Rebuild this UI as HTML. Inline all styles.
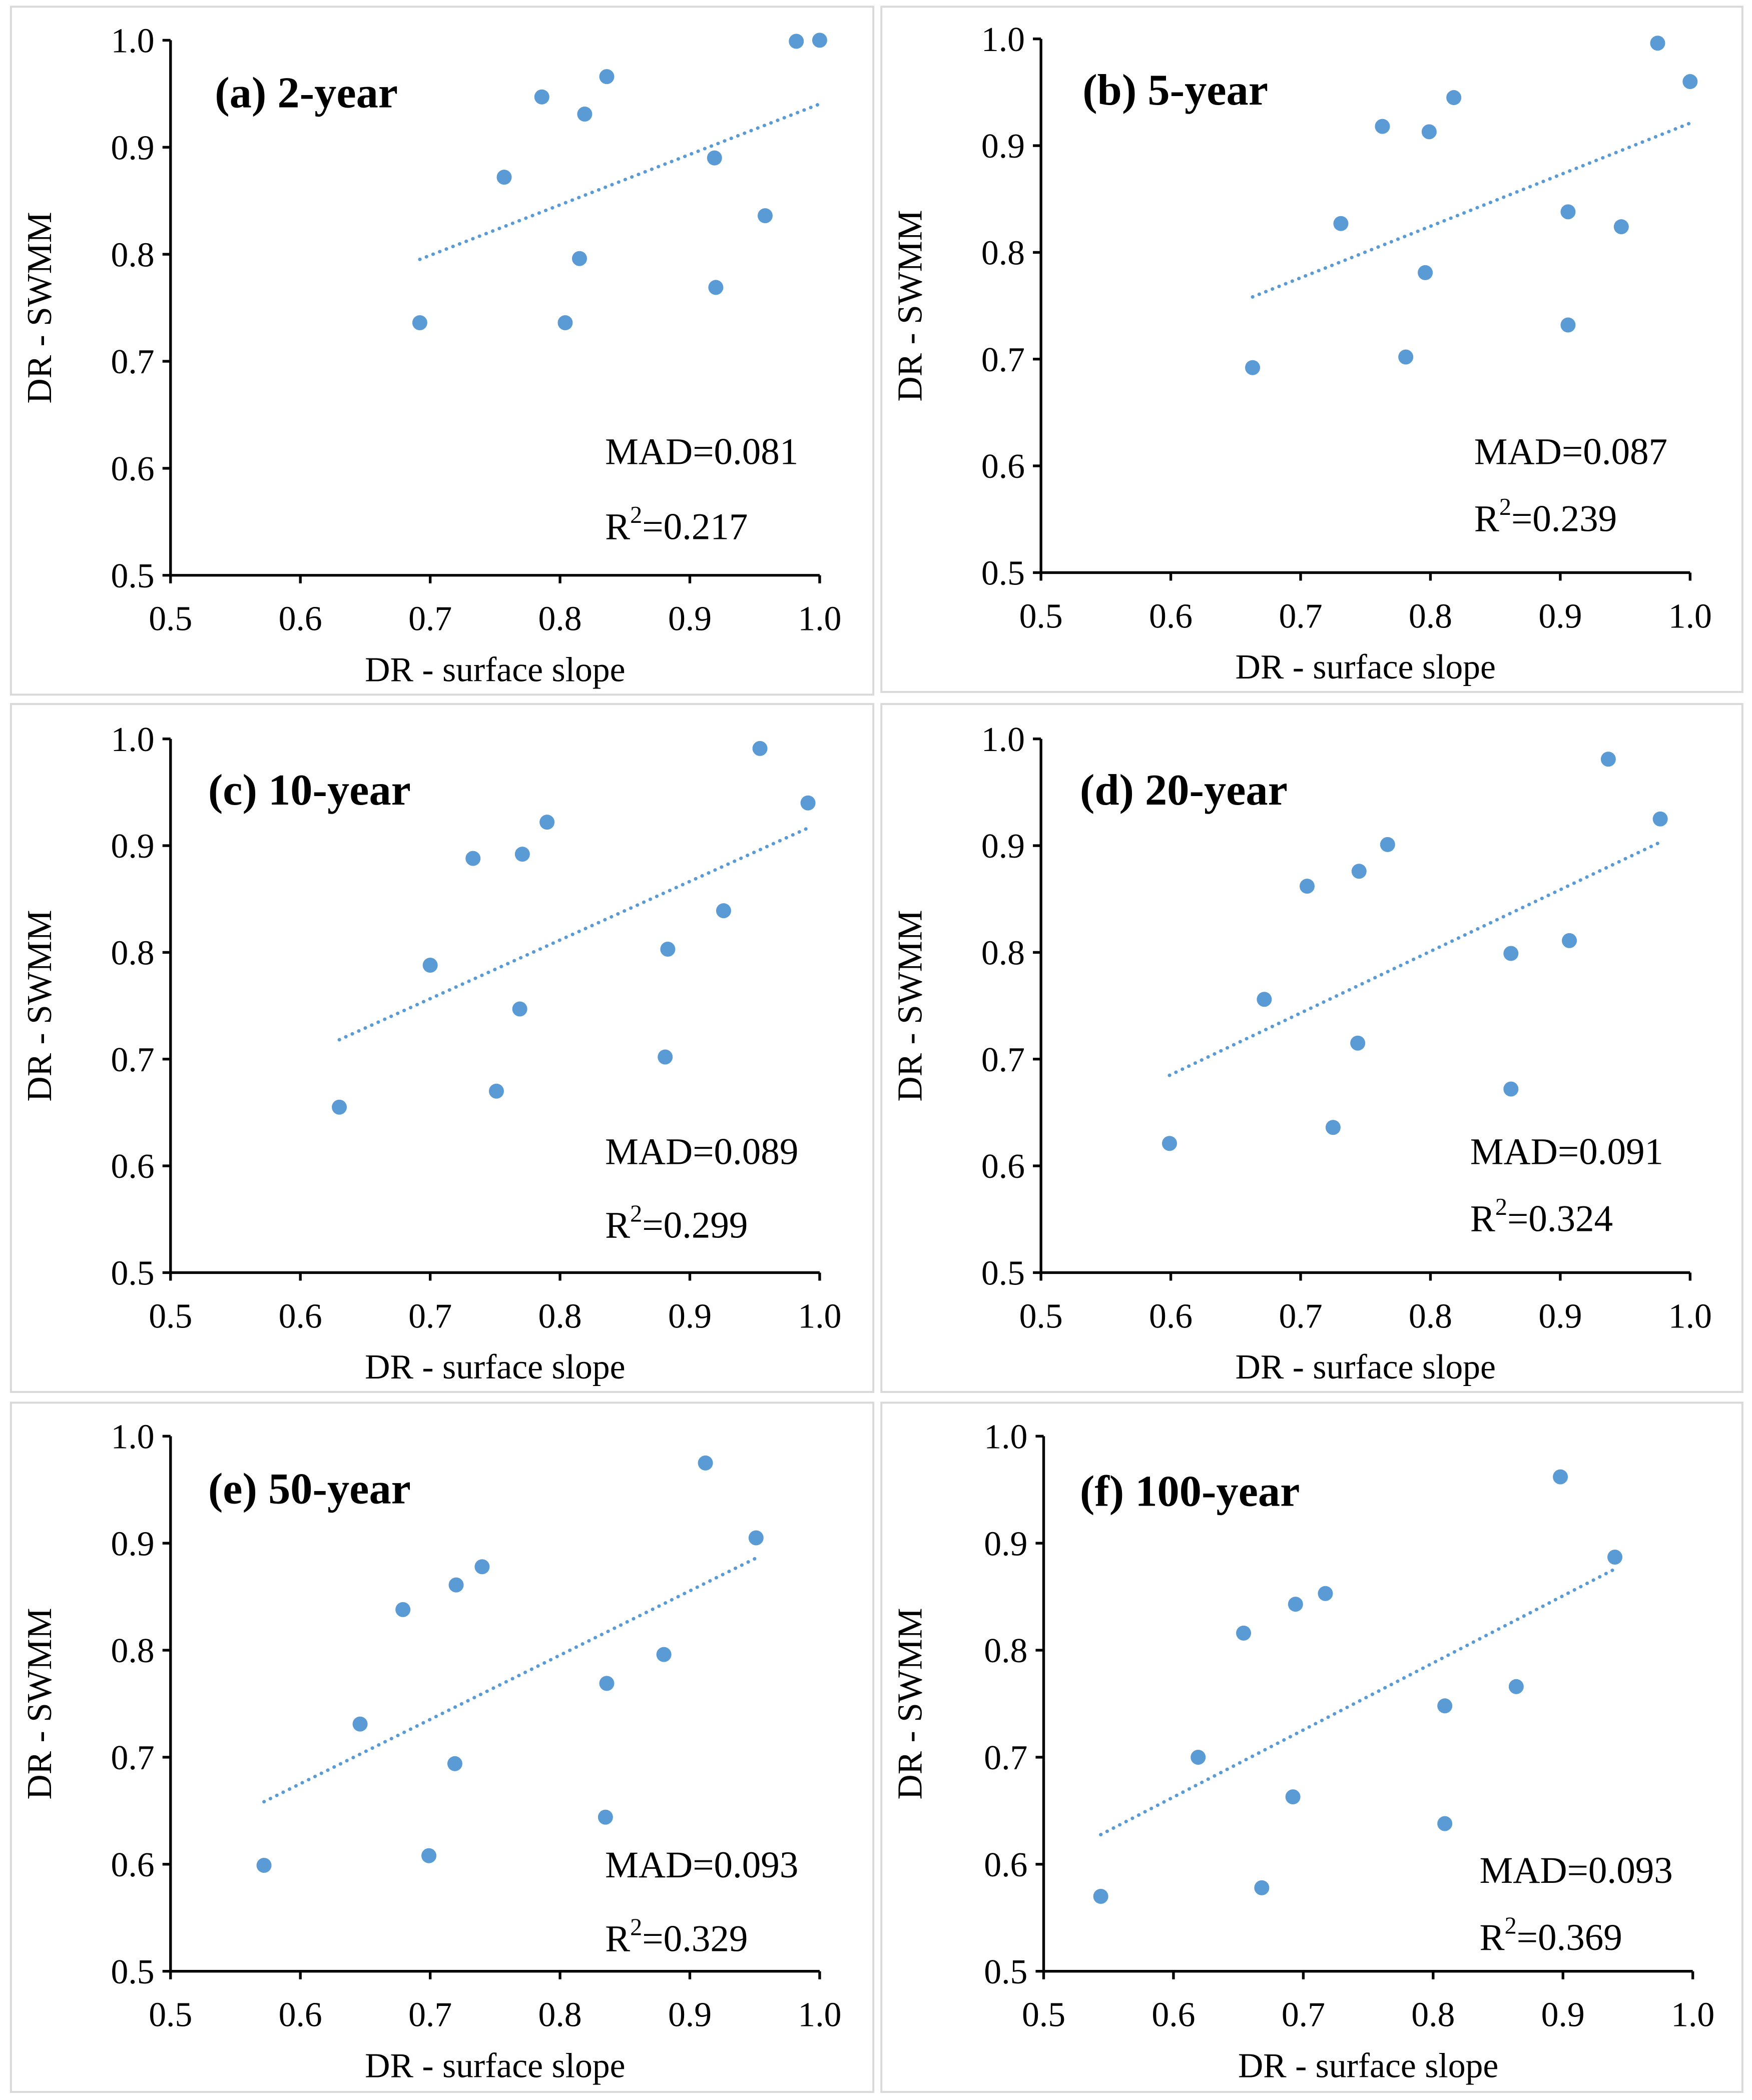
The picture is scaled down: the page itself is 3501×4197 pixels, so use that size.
<!DOCTYPE html>
<html><head><meta charset="utf-8"><style>
html,body{margin:0;padding:0;background:#fff}
svg{display:block}
text{font-family:"Liberation Serif",serif;fill:#000}
</style></head><body>
<svg id="chart" xmlns="http://www.w3.org/2000/svg" width="3501" height="4197" viewBox="0 0 1306 1566"></svg>
<script>
const panelTitles = ["(a) 2-year","(b) 5-year","(c) 10-year","(d) 20-year","(e) 50-year","(f) 100-year"];
const madValues = ["0.081","0.087","0.089","0.091","0.093","0.093"];
const r2Values = ["0.217","0.239","0.299","0.324","0.329","0.369"];
const tickValues = [0.5,0.6,0.7,0.8,0.9,1.0];
const tickLabels = ["0.5","0.6","0.7","0.8","0.9","1.0"];
const xA = [0.692,0.757,0.786,0.819,0.836,0.815,0.804,0.919,0.920,0.958,0.982,1.0];
const yA = [0.736,0.872,0.947,0.931,0.966,0.796,0.736,0.890,0.769,0.836,0.999,1.0];
const xB = [0.663,0.731,0.763,0.781,0.796,0.799,0.818,0.906,0.906,0.947,0.975,1.0];
const yB = [0.692,0.827,0.918,0.702,0.781,0.913,0.945,0.838,0.732,0.824,0.996,0.960];
const xC = [0.630,0.700,0.733,0.751,0.769,0.771,0.790,0.881,0.883,0.926,0.954,0.991];
const yC = [0.655,0.788,0.888,0.670,0.747,0.892,0.922,0.702,0.803,0.839,0.991,0.940];
const xD = [0.599,0.672,0.705,0.725,0.744,0.745,0.767,0.862,0.862,0.907,0.937,0.977];
const yD = [0.621,0.756,0.862,0.636,0.715,0.876,0.901,0.799,0.672,0.811,0.981,0.925];
const xE = [0.572,0.646,0.679,0.699,0.719,0.720,0.740,0.835,0.836,0.880,0.912,0.951];
const yE = [0.599,0.731,0.838,0.608,0.694,0.861,0.878,0.644,0.769,0.796,0.975,0.905];
const xF = [0.544,0.619,0.654,0.668,0.692,0.694,0.717,0.809,0.809,0.864,0.898,0.940];
const yF = [0.570,0.700,0.816,0.578,0.663,0.843,0.853,0.638,0.748,0.766,0.962,0.887];
const seriesX = [xA,xB,xC,xD,xE,xF];
const seriesY = [yA,yB,yC,yD,yE,yF];

const NS="http://www.w3.org/2000/svg";
const svg=document.getElementById('chart');
function mk(tag,attrs,parent,txt){const e=document.createElementNS(NS,tag);for(const k in attrs)e.setAttribute(k,attrs[k]);if(txt!==undefined)e.textContent=txt;parent.appendChild(e);return e;}
const L=[
 {bx:8,by:5,bw:643,bh:513,x0:127,x1:611,y0:429,y1:30,tx:160,ty:80,mx:451,my:346,ry:402},
 {bx:657,by:5,bw:642,bh:511,x0:776,x1:1260,y0:427,y1:29,tx:807,ty:78,mx:1099,my:346,ry:396},
 {bx:8,by:525,bw:643,bh:513,x0:127,x1:611,y0:949,y1:551,tx:155,ty:600,mx:451,my:868,ry:923},
 {bx:657,by:525,bw:642,bh:513,x0:776,x1:1260,y0:949,y1:551,tx:805,ty:600,mx:1096,my:868,ry:918},
 {bx:8,by:1046,bw:643,bh:514,x0:127,x1:611,y0:1470,y1:1071,tx:155,ty:1121,mx:451,my:1400,ry:1455},
 {bx:657,by:1046,bw:642,bh:514,x0:778,x1:1262,y0:1470,y1:1071,tx:805,ty:1123,mx:1103,my:1404,ry:1454}
];
L.forEach((p,i)=>{
 const g=mk('g',{},svg);
 
 
 const fr=mk('rect',{x:p.bx,y:p.by,width:p.bw,height:p.bh,fill:'none',stroke:'#d9d9d9','stroke-width':1.5},g);
 
 
 const sx=v=>p.x0+(v-0.5)/0.5*(p.x1-p.x0);
 const sy=v=>p.y0-(v-0.5)/0.5*(p.y0-p.y1);
 const ax=mk('g',{stroke:'#000','stroke-width':2},g);
 
 
 mk('line',{x1:p.x0,y1:p.y0,x2:p.x1,y2:p.y0},ax);
 mk('line',{x1:p.x0,y1:p.y0,x2:p.x0,y2:p.y1},ax);
 tickValues.forEach((v,k)=>{
  mk('line',{x1:sx(v),y1:p.y0,x2:sx(v),y2:p.y0+6},ax);
  mk('line',{x1:p.x0-6,y1:sy(v),x2:p.x0,y2:sy(v)},ax);
  const tx=mk('text',{x:sx(v),y:p.y0+41,'text-anchor':'middle','font-size':26},g,tickLabels[k]);
  
  
  const ty=mk('text',{x:p.x0-12,y:sy(v)+9,'text-anchor':'end','font-size':26},g,tickLabels[k]);
  
  
 });
 const xt=mk('text',{x:(p.x0+p.x1)/2,y:p.y0+79,'text-anchor':'middle','font-size':26},g,'DR - surface  slope');
 
 
 const cy=(p.y0+p.y1)/2;
 const yt=mk('text',{x:p.bx+30,y:cy,'text-anchor':'middle','font-size':26,transform:`rotate(-90 ${p.bx+30} ${cy})`},g,'DR - SWMM');
 
 
 const t=mk('text',{x:p.tx,y:p.ty,'font-size':33,'font-weight':'bold'},g,panelTitles[i]);
 
 
 const m=mk('text',{x:p.mx,y:p.my,'font-size':28},g,'MAD='+madValues[i]);
 
 
 const r=mk('text',{x:p.mx,y:p.ry,'font-size':28},g);
 
 
 mk('tspan',{},r,'R');
 mk('tspan',{'font-size':18,dy:-12},r,'2');
 mk('tspan',{dy:12},r,'='+r2Values[i]);
 const X=seriesX[i],Y=seriesY[i],n=X.length;
 const mx=X.reduce((a,b)=>a+b)/n,my=Y.reduce((a,b)=>a+b)/n;
 let sxy=0,sxx=0;for(let k=0;k<n;k++){sxy+=(X[k]-mx)*(Y[k]-my);sxx+=(X[k]-mx)**2;}
 const b=sxy/sxx,a=my-b*mx,xmin=Math.min(...X),xmax=Math.max(...X);
 const tl=mk('line',{x1:sx(xmin),y1:sy(a+b*xmin),x2:sx(xmax),y2:sy(a+b*xmax),stroke:'#5b9bd5','stroke-width':2.6,'stroke-dasharray':'0.1 5.2','stroke-linecap':'round'},g);
 
 
 for(let k=0;k<n;k++){
  const c=mk('circle',{cx:sx(X[k]),cy:sy(Y[k]),r:5.6,fill:'#5b9bd5'},g);
  
  
 }
});
</script>
</body></html>
